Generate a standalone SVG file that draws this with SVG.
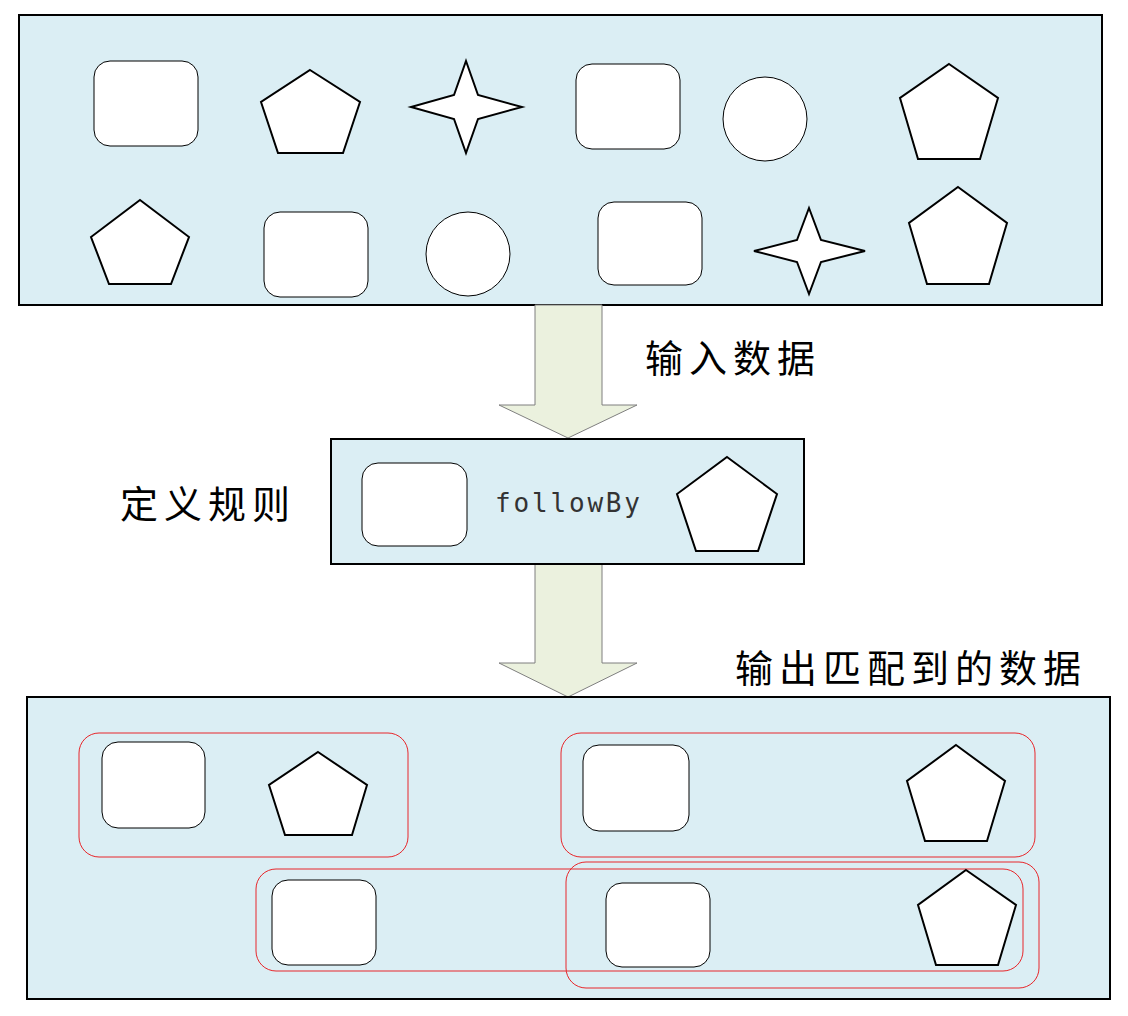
<svg xmlns="http://www.w3.org/2000/svg" width="1128" height="1016" viewBox="0 0 1128 1016">
<style>
.box{fill:#DBEEF4;stroke:#000;stroke-width:2}
.s{fill:#fff;stroke:#000;stroke-width:1}
.p{fill:#fff;stroke:#000;stroke-width:2}
.red{fill:none;stroke:#E8262A;stroke-width:1}
.arr{fill:#EBF1DE;stroke:#7F7F7F;stroke-width:1}
.cn{font-family:"Noto Sans CJK SC","Noto Sans",sans-serif;font-size:38px;letter-spacing:6px;fill:#000}
.mono{font-family:"DejaVu Sans Mono","Liberation Mono",monospace;font-size:26px;fill:#333}
</style>
<rect width="1128" height="1016" fill="#fff"/>
<g id="input">
<rect class="box" x="19" y="15" width="1083" height="290"/>
<rect class="s" x="94" y="61" width="104" height="85" rx="16"/>
<polygon class="p" points="310,70 360,102 343,153 278,153 261,102"/>
<polygon class="p" points="466,61 478,95 522,107 478,119 466,153 454,119 411,107 454,95"/>
<rect class="s" x="576" y="64" width="104" height="85" rx="16"/>
<circle class="s" cx="765" cy="119" r="42"/>
<polygon class="p" points="949,64 998,98 980,159 918,159 900,98"/>
<polygon class="p" points="140,200 189,237 171,284 109,284 91,237"/>
<rect class="s" x="264" y="212" width="104" height="85" rx="16"/>
<circle class="s" cx="468" cy="254" r="42"/>
<rect class="s" x="598" y="202" width="104" height="83" rx="16"/>
<polygon class="p" points="809,208 821,240 865,251 821,262 809,294 797,262 754,251 797,240"/>
<polygon class="p" points="958,187 1007,223 989,284 927,284 909,223"/>
</g>
<g id="connectors">
<polygon class="arr" points="535,305 602,305 602,405 637,405 568,438 499,405 535,405"/>
<polygon class="arr" points="535,564 602,564 602,663 637,663 568,697 499,663 535,663"/>
</g>
<text class="cn" x="645" y="372">输入数据</text>
<text class="cn" x="120" y="518">定义规则</text>
<text class="cn" x="735" y="682">输出匹配到的数据</text>
<g id="rule">
<rect class="box" x="331" y="439" width="473" height="125"/>
<rect class="s" x="362" y="463" width="105" height="83" rx="16"/>
<text class="mono" x="495" y="512" textLength="145">followBy</text>
<polygon class="p" points="727,457 777,494 758,551 696,551 677,494"/>
</g>
<g id="output">
<rect class="box" x="27" y="697" width="1083" height="302"/>
<rect class="red" x="79" y="733" width="329" height="124" rx="20"/>
<rect class="red" x="561" y="733" width="474" height="124" rx="20"/>
<rect class="red" x="256" y="869" width="767" height="102" rx="20"/>
<rect class="red" x="566" y="862" width="473" height="126" rx="20"/>
<rect class="s" x="102" y="742" width="103" height="86" rx="16"/>
<polygon class="p" points="318,752 367,785 352,835 285,835 269,785"/>
<rect class="s" x="583" y="745" width="106" height="86" rx="16"/>
<polygon class="p" points="956,745 1005,781 987,841 925,841 907,781"/>
<rect class="s" x="272" y="880" width="104" height="85" rx="16"/>
<rect class="s" x="606" y="883" width="104" height="84" rx="16"/>
<polygon class="p" points="966,870 1016,905 998,965 936,965 918,905"/>
</g>
</svg>
